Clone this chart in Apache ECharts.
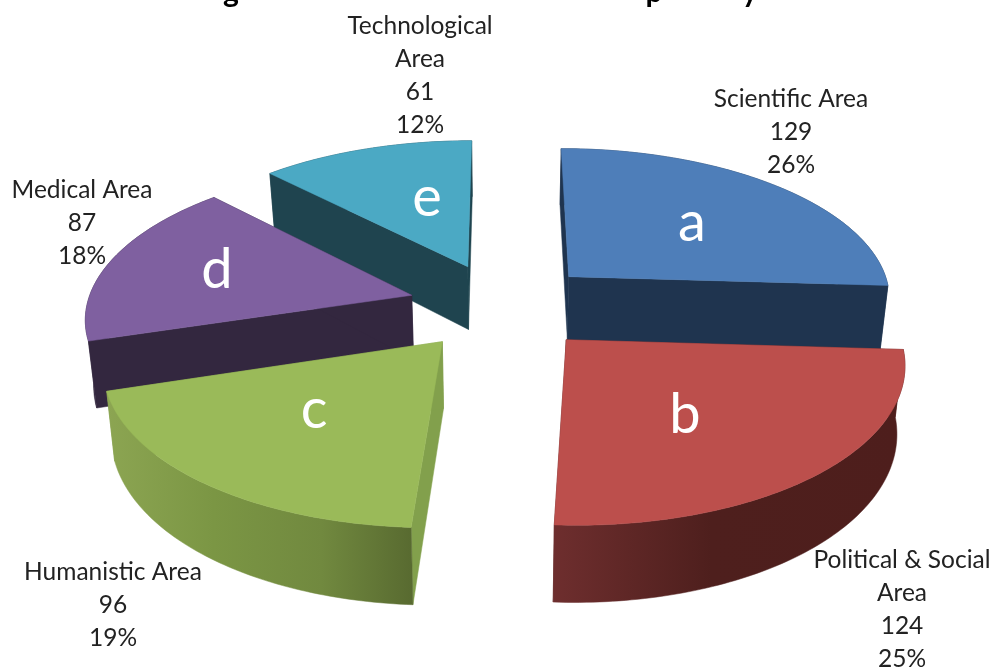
<!DOCTYPE html>
<html>
<head>
<meta charset="utf-8">
<style>html,body{margin:0;padding:0;background:#fff}#chart{width:995px;height:668px}</style>
<script src="https://cdn.jsdelivr.net/npm/echarts@6/dist/echarts.min.js"></script>
</head>
<body>
<div id="chart"></div>
<script>
const categories = ['Scientific Area', 'Political & Social\nArea', 'Humanistic Area', 'Medical Area', 'Technological\nArea'];
const values = [129, 124, 96, 87, 61];
const percents = ['26%', '25%', '19%', '18%', '12%'];
const letters = ['a', 'b', 'c', 'd', 'e'];
const titleFragments = ['g', 'p', 'y'];

// Slice look
const topColors = ['#4e7eb9', '#bc4f4c', '#9aba59', '#7f60a0', '#4ba9c4'];
const radialColors = ['#1f344f', '#5a2423', '#82a04c', '#33273f', '#1f444f'];
const arcStops = [
  [[0, '#1f344f'], [1, '#1f344f']],
  [[0, '#6e2e2e'], [0.45, '#4e1f1d'], [1, '#4e1e1c']],
  [[0, '#8ca552'], [0.35, '#7b9644'], [0.7, '#71893f'], [1, '#586a30']],
  [[0, '#33273f'], [1, '#33273f']],
  [[0, '#1f444f'], [1, '#1f444f']]
];
const drawOrder = [1, 4, 3, 2, 0];

// Placement of labels
const labelPos = [[791, 132], [902, 610], [113, 605], [82, 223], [420, 76]];
const letterPos = [[692, 223], [685, 415], [314, 410], [217, 270], [427, 198]];
const titlePos = [[231, -23], [654, -23], [750, -23]];

// Projection of the exploded pie
const VX = 502, Y0 = 306, K = 0.467, P = 0.0004, R = 325, EXPLODE = 94, H = 65, BOTTOM_X = 0.98;
const total = values.reduce((a, b) => a + b, 0);

function project(X, Z, low) {
  const s = 1 / (1 - P * Z);
  let x = VX + X * s;
  let y = Y0 + K * Z * s;
  if (low) { x = VX + (x - VX) * BOTTOM_X; y += H * s; }
  return [x, y];
}

function sliceAngles(i) {
  let a0 = 0;
  for (let k = 0; k < i; k++) a0 += values[k] / total * Math.PI * 2;
  return [a0, a0 + values[i] / total * Math.PI * 2];
}

function renderSlice(params, api) {
  const i = params.dataIndex;
  const value = api.value(0);
  const a0 = sliceAngles(i)[0];
  const a1 = a0 + value / total * Math.PI * 2;
  const mid = (a0 + a1) / 2;
  const cx = EXPLODE * Math.sin(mid), cz = -EXPLODE * Math.cos(mid);
  const rim = (t, low) => project(cx + R * Math.sin(t), cz - R * Math.cos(t), low);
  const steps = Math.ceil((a1 - a0) / (Math.PI / 180));
  const topArc = [], lowArc = [];
  for (let k = 0; k <= steps; k++) {
    const t = a0 + (a1 - a0) * k / steps;
    topArc.push(rim(t, false));
    lowArc.push(rim(t, true));
  }
  const apex = project(cx, cz, false), apexLow = project(cx, cz, true);
  const base = drawOrder[i] * 10;
  const solid = radialColors[i];
  const arcFill = new echarts.graphic.LinearGradient(0, 0, 1, 0,
    arcStops[i].map(s => ({ offset: s[0], color: s[1] })));
  const poly = (points, fill, z) => ({
    type: 'polygon', shape: { points }, z2: base + z,
    style: { fill, stroke: fill, lineWidth: 0.5 }
  });
  const children = [
    poly([apex, topArc[0], lowArc[0], apexLow], solid, 0),
    poly([apex, topArc[steps], lowArc[steps], apexLow], solid, 1),
    poly(topArc.concat(lowArc.slice().reverse()), arcFill, 2),
    poly([apex].concat(topArc), topColors[i], 3),
    {
      type: 'text', z2: 100,
      style: {
        text: letters[i], x: letterPos[i][0], y: letterPos[i][1],
        fill: '#ffffff', font: '56px Lato, "Open Sans", sans-serif',
        align: 'center', verticalAlign: 'middle'
      }
    },
    {
      type: 'text', z2: 100,
      style: {
        text: categories[i] + '\n' + value + '\n' + percents[i],
        x: labelPos[i][0], y: labelPos[i][1],
        fill: '#222222', font: '24.5px Lato, "Open Sans", sans-serif', lineHeight: 33,
        align: 'center', verticalAlign: 'middle'
      }
    }
  ];
  return { type: 'group', children };
}

const chart = echarts.init(document.getElementById('chart'), null, { renderer: 'canvas' });
chart.setOption({
  animation: false,
  backgroundColor: '#ffffff',
  graphic: titleFragments.map((t, i) => ({
    type: 'text', x: titlePos[i][0], y: titlePos[i][1],
    style: { text: t, fill: '#000', font: 'bold 30px Lato, sans-serif', align: 'center', verticalAlign: 'top' }
  })),
  series: [{
    type: 'custom',
    coordinateSystem: 'none',
    clip: false,
    silent: true,
    data: values.map(v => [v]),
    renderItem: renderSlice
  }]
});
</script>
</body>
</html>
